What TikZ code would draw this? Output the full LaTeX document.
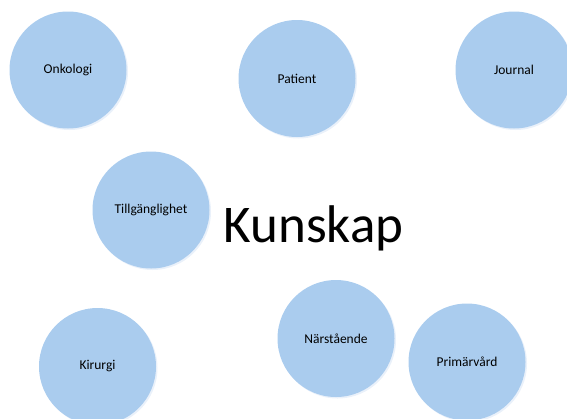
\documentclass[tikz,border=0pt]{standalone}
\usepackage{fontspec}
\setmainfont{Carlito}
\usepackage{xcolor}
\definecolor{topic-blue}{HTML}{AACCEE}
\definecolor{topic-rim}{HTML}{EAF1FA}
\tikzset{
    topic-circle/.style = {circle, fill=topic-blue, minimum size=117pt, inner sep=0pt, font=\fontsize{13.5}{15}\selectfont},
    topic-shadow/.style = {circle, fill=topic-rim, minimum size=117pt, inner sep=0pt},
    title-text/.style = {font=\fontsize{53}{58}\selectfont, anchor=base, inner sep=0pt},
}
\begin{document}
\begin{tikzpicture}[x=1pt, y=-1pt]
\useasboundingbox (0,0) rectangle (567,418);
\clip (0,0) rectangle (567,418);
% light rim behind each circle
\foreach \cx/\cy in {68/70, 297/78.5, 514/70, 151/210, 97.5/366.5, 336/338.5, 467/362}
    \node[topic-shadow] at (\cx+1.5,\cy+1.5) {};
\node[topic-circle] (onkologi) at (68,70) {Onkologi};
\node[topic-circle] (patient) at (297,78.5) {Patient};
\node[topic-circle] (journal) at (514,70) {Journal};
\node[topic-circle] (tillganglighet) at (151,210) {Tillgänglighet};
\node[topic-circle] (kirurgi) at (97.5,366.5) {Kirurgi};
\node[topic-circle] (narstaende) at (336,338.5) {Närstående};
\node[topic-circle] (primarvard) at (467,362) {Primärvård};
\node[title-text] (kunskap) at (313.5,242) {Kunskap};
\end{tikzpicture}
\end{document}
